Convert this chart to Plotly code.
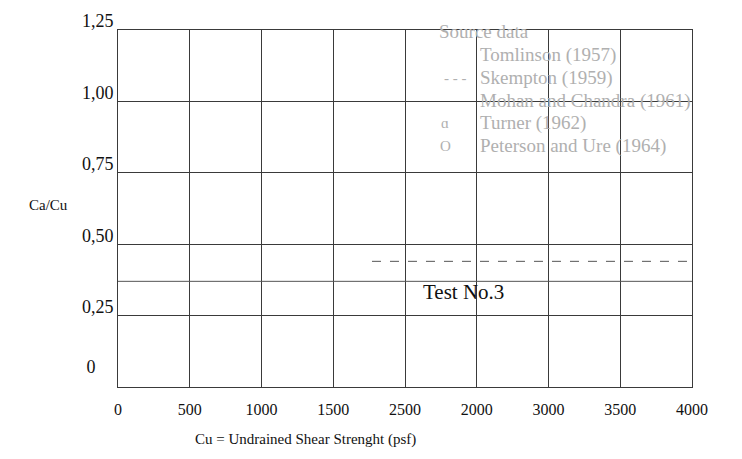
import plotly.graph_objects as go

# ---- data ----
x_tick_vals = [0, 500, 1000, 1500, 2000, 2500, 3000, 3500, 4000]
x_tick_text = ["0", "500", "1000", "1500", "2500", "2000", "3000", "3500", "4000"]
y_tick_vals = [0, 0.25, 0.5, 0.75, 1.0, 1.25]
y_tick_text = ["0&nbsp;&nbsp;&nbsp;&nbsp;<br>&nbsp;", "0,25", "0,50", "0,75", "1,00", "1,25"]

test3_x = [0, 4000]
test3_y = [0.37, 0.37]
dashed_x = [1770, 4000]
dashed_y = [0.44, 0.44]

legend_title = "Source data"
legend_labels = ["Tomlinson (1957)", "Skempton (1959)", "Mohan and Chandra (1961)",
                 "Turner (1962)", "Peterson and Ure (1964)"]
legend_symbols = ["", "- - -", "", "ɑ", "O"]

x_title = "Cu = Undrained Shear Strenght (psf)"
y_title = "Ca/Cu"
test_label = "Test No.3"

# ---- layout geometry (window pixels); page body has an 8px margin ----
OFF = 8
W, H = 742 - OFF, 459 - OFF
L, R, T, B = 118 - OFF, 50, 30 - OFF, 72
PW, PH = W - L - R, H - T - B


def px(x):
    return (x - OFF - L) / PW


def py(y):
    return (H - B - (y - OFF)) / PH


FONT = "Liberation Serif"
GRID = "#3a3a3a"

fig = go.Figure()
fig.add_trace(go.Scatter(x=test3_x, y=test3_y, mode="lines",
                         line=dict(color="#555555", width=1), showlegend=False,
                         hoverinfo="skip"))
fig.add_trace(go.Scatter(x=dashed_x, y=dashed_y, mode="lines",
                         line=dict(color="#555555", width=1, dash="dash"),
                         showlegend=False, hoverinfo="skip"))

ann = []
ann.append(dict(text=y_title, xref="paper", yref="paper", x=px(48), y=py(205),
                xanchor="center", yanchor="middle",
                showarrow=False, font=dict(family=FONT, size=15, color="#111")))
ann.append(dict(text=x_title, xref="paper", yref="paper", x=px(305), y=py(440),
                xanchor="center", yanchor="middle",
                showarrow=False, font=dict(family=FONT, size=15, color="#111")))
ann.append(dict(text=test_label, x=2411, y=0.333, xref="x", yref="y",
                xanchor="center", yanchor="middle",
                showarrow=False, font=dict(family=FONT, size=21, color="#111")))

# legend as text
LEG = "#b0b0b0"
ann.append(dict(text=legend_title, xref="paper", yref="paper", x=px(437), y=py(32),
                xanchor="left", yanchor="middle", showarrow=False,
                font=dict(family=FONT, size=19, color=LEG)))
row_y = [55, 78, 101, 123, 146]
sym_x = [445, 455, 445, 445, 445]
for lab, sym, yy, sx in zip(legend_labels, legend_symbols, row_y, sym_x):
    ann.append(dict(text=lab, xref="paper", yref="paper", x=px(478), y=py(yy),
                    xanchor="left", yanchor="middle", showarrow=False,
                    font=dict(family=FONT, size=19, color=LEG)))
    if sym:
        ann.append(dict(text=sym, xref="paper", yref="paper", x=px(sx), y=py(yy),
                        xanchor="center", yanchor="middle", showarrow=False,
                        font=dict(family=FONT, size=15, color=LEG)))

fig.update_layout(
    width=W, height=H,
    margin=dict(l=L, r=R, t=T, b=B, autoexpand=False),
    paper_bgcolor="white", plot_bgcolor="white",
    showlegend=False,
    annotations=ann,
    xaxis=dict(range=[0, 4000], tickmode="array", tickvals=x_tick_vals,
               ticktext=x_tick_text, showgrid=True, gridcolor=GRID, gridwidth=1,
               zeroline=False, showline=True, linecolor=GRID, mirror=True,
               ticks="", ticklabelstandoff=8,
               tickfont=dict(family=FONT, size=16, color="#111")),
    yaxis=dict(range=[0, 1.25], tickmode="array", tickvals=y_tick_vals,
               ticktext=y_tick_text, showgrid=True, gridcolor=GRID, gridwidth=1,
               zeroline=False, showline=True, linecolor=GRID, mirror=True,
               ticks="", ticklabelstandoff=0, ticklabelshift=-9,
               tickfont=dict(family=FONT, size=18, color="#111")),
)

fig.write_html("out.html")
